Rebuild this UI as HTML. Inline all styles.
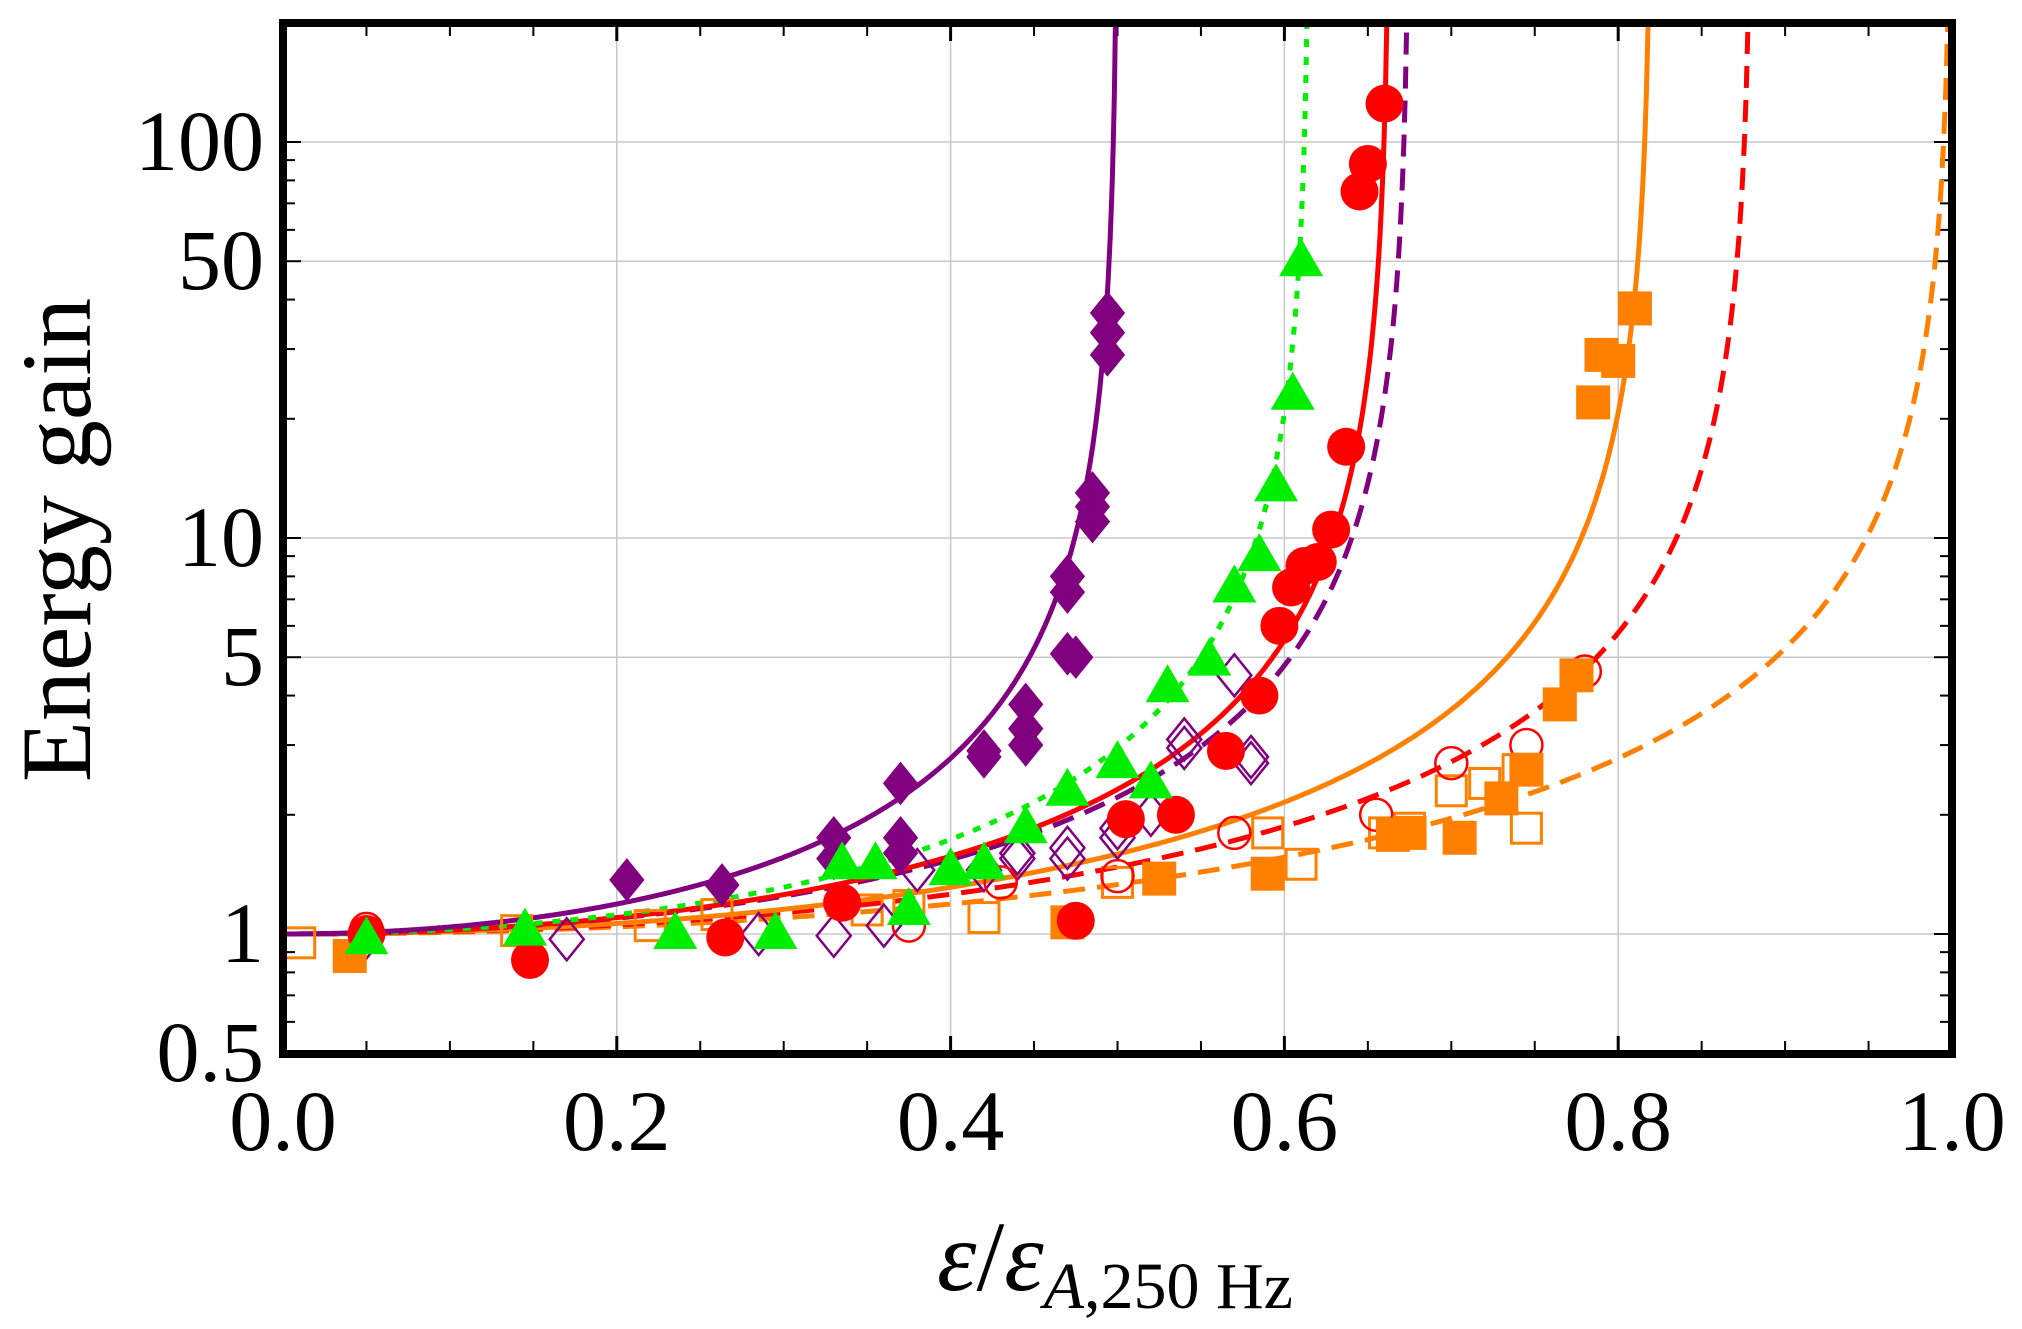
<!DOCTYPE html>
<html><head><meta charset="utf-8"><style>
html,body{margin:0;padding:0;background:#fff;}
svg{display:block;}
text{font-family:"Liberation Serif",serif;fill:#000;}
</style></head><body>
<svg id="s" width="2022" height="1329" viewBox="0 0 2022 1329" xmlns="http://www.w3.org/2000/svg"></svg>
<script>
const S=document.getElementById('s');
const X0=283,X1=1952,Y1v=934,DEC=396;
const fx=x=>X0+x*(X1-X0);
const fy=g=>Y1v-Math.log10(g)*DEC;
let h='';
h+='<defs><clipPath id="c"><rect x="287" y="27" width="1661" height="1023"/></clipPath></defs>';
[0.2,0.4,0.6,0.8].forEach(x=>h+=`<line x1="${fx(x)}" x2="${fx(x)}" y1="27" y2="1050" stroke="#c8c8c8" stroke-width="1.5"/>`);
[1,5,10,50,100].forEach(g=>h+=`<line x1="287" x2="1948" y1="${fy(g)}" y2="${fy(g)}" stroke="#c8c8c8" stroke-width="1.5"/>`);
for(let i=1;i<20;i++){const x=fx(i*0.05);const L=i%4==0?14:9;
h+=`<line x1="${x}" x2="${x}" y1="1050" y2="${1050-L}" stroke="#000" stroke-width="${i%4==0?3:2}"/>`;
h+=`<line x1="${x}" x2="${x}" y1="27" y2="${27+L}" stroke="#000" stroke-width="${i%4==0?3:2}"/>`;}
[0.6,0.7,0.8,0.9,1,2,3,4,5,6,7,8,9,10,20,30,40,50,60,70,80,90,100,200].forEach(g=>{const y=fy(g);if(y<28||y>1049)return;const maj=[1,5,10,50,100].includes(g);const L=maj?14:8;
h+=`<line x1="287" x2="${287+L}" y1="${y}" y2="${y}" stroke="#000" stroke-width="2"/>`;
h+=`<line x1="1948" x2="${1948-L}" y1="${y}" y2="${y}" stroke="#000" stroke-width="2"/>`;});
function curve(xc,col,dash){let p='';for(let i=0;i<=800;i++){const x=xc*i/800*0.99999;const g=1/(1-Math.pow(x/xc,2));if(g>260)break;p+=(p?'L':'M')+fx(x).toFixed(1)+','+fy(g).toFixed(1);}
p+='L'+fx(xc*0.9995).toFixed(1)+','+(0);
return `<path d="${p}" fill="none" stroke="${col}" stroke-width="5" ${dash?`stroke-dasharray="${dash}"`:''} clip-path="url(#c)"/>`;}
const PU='#800080',GR='#00ee00',RD='#ff0000',OR='#ff8000';
h+=curve(1.0,OR,'22,12');
h+=curve(0.88,RD,'22,12');
h+=curve(0.82,OR,'');
h+=curve(0.675,PU,'22,12');
h+=curve(0.663,RD,'');
h+=curve(0.615,GR,'8,10');
h+=curve(0.5,PU,'');
function dia(x,g,col,fill){const cx=fx(x),cy=fy(g),r=21,w=17;return `<path d="M${cx},${cy-r}L${cx+w},${cy}L${cx},${cy+r}L${cx-w},${cy}Z" fill="${fill?col:'none'}" stroke="${col}" stroke-width="${fill?1:2.5}"/>`;}
function tri(x,g,col){const cx=fx(x),cy=fy(g);return `<path d="M${cx},${cy-23}L${cx+22},${cy+15}L${cx-22},${cy+15}Z" fill="${col}"/>`;}
function cir(x,g,col,fill){return `<circle cx="${fx(x)}" cy="${fy(g)}" r="${fill?19:16}" fill="${fill?col:'none'}" stroke="${col}" stroke-width="${fill?0:2.5}"/>`;}
function sq(x,g,col,fill){const s=fill?34:30;return `<rect x="${fx(x)-s/2}" y="${fy(g)-s/2}" width="${s}" height="${s}" fill="${fill?col:'none'}" stroke="${col}" stroke-width="${fill?0:3}"/>`;}
let m='';
[[0.01,0.95],[0.14,1.02],[0.22,1.05],[0.26,1.12],[0.35,1.15],[0.375,1.18],[0.42,1.1],[0.5,1.35],[0.59,1.8],[0.61,1.5],[0.66,1.8],[0.675,1.85],[0.7,2.3],[0.72,2.4],[0.74,2.6],[0.745,1.85]].forEach(p=>m+=sq(p[0],p[1],OR,false));
[[0.05,0.98],[0.17,0.97],[0.285,1.0],[0.33,0.99],[0.36,1.05],[0.38,1.45],[0.42,1.45],[0.44,1.6],[0.44,1.55],[0.47,1.65],[0.47,1.55],[0.5,1.75],[0.5,1.85],[0.52,2.0],[0.54,3.1],[0.54,2.95],[0.57,4.5],[0.58,2.8],[0.58,2.7]].forEach(p=>m+=dia(p[0],p[1],PU,false));
[[0.05,1.03],[0.375,1.05],[0.43,1.35],[0.5,1.4],[0.57,1.8],[0.655,2.0],[0.7,2.7],[0.745,3.0],[0.78,4.6]].forEach(p=>m+=cir(p[0],p[1],RD,false));
[[0.04,0.88],[0.47,1.07],[0.525,1.38],[0.59,1.42],[0.665,1.78],[0.675,1.8],[0.705,1.75],[0.73,2.2],[0.745,2.6],[0.765,3.8],[0.775,4.5],[0.785,22],[0.79,29],[0.8,28],[0.81,38]].forEach(p=>m+=sq(p[0],p[1],OR,true));
[[0.206,1.37],[0.263,1.33],[0.33,1.75],[0.33,1.55],[0.37,2.4],[0.37,1.75],[0.37,1.6],[0.42,2.9],[0.42,2.8],[0.445,3.8],[0.445,3.3],[0.445,3.0],[0.47,8],[0.47,7.3],[0.47,5.1],[0.475,5.0],[0.485,13],[0.485,12],[0.485,11],[0.494,37],[0.494,33],[0.494,29]].forEach(p=>m+=dia(p[0],p[1],PU,true));
[[0.05,1.0],[0.148,0.86],[0.265,0.98],[0.335,1.2],[0.475,1.08],[0.505,1.95],[0.535,2.0],[0.565,2.9],[0.585,4.0],[0.597,6.0],[0.604,7.5],[0.612,8.5],[0.62,8.7],[0.628,10.5],[0.637,17],[0.645,75],[0.65,88],[0.66,125]].forEach(p=>m+=cir(p[0],p[1],RD,true));
[[0.05,0.97],[0.145,1.02],[0.235,1.0],[0.295,1.0],[0.335,1.5],[0.355,1.5],[0.375,1.15],[0.4,1.45],[0.42,1.5],[0.445,1.85],[0.47,2.3],[0.5,2.7],[0.52,2.4],[0.53,4.2],[0.555,4.9],[0.57,7.5],[0.585,9],[0.595,13.5],[0.605,23],[0.61,50]].forEach(p=>m+=tri(p[0],p[1],GR));
h+=`<g clip-path="url(#c)">${m}</g>`;
h+='<rect x="283" y="23" width="1669" height="1031" fill="none" stroke="#000" stroke-width="8"/>';
[0,0.2,0.4,0.6,0.8,1.0].forEach(x=>h+=`<text x="${fx(x)}" y="1150" font-size="86" text-anchor="middle">${x.toFixed(1)}</text>`);
[[0.5,'0.5'],[1,'1'],[5,'5'],[10,'10'],[50,'50'],[100,'100']].forEach(a=>h+=`<text x="264" y="${fy(a[0])+28}" font-size="86" text-anchor="end">${a[1]}</text>`);
h+=`<text transform="translate(90,540) rotate(-90)" font-size="100" text-anchor="middle">Energy gain</text>`;
h+=`<text x="1115" y="1290" font-size="100" text-anchor="middle"><tspan font-style="italic">ε</tspan>/<tspan font-style="italic">ε</tspan><tspan font-size="66" dy="18"><tspan font-style="italic">A</tspan>,250 Hz</tspan></text>`;
S.innerHTML=h;
</script>
</body></html>
